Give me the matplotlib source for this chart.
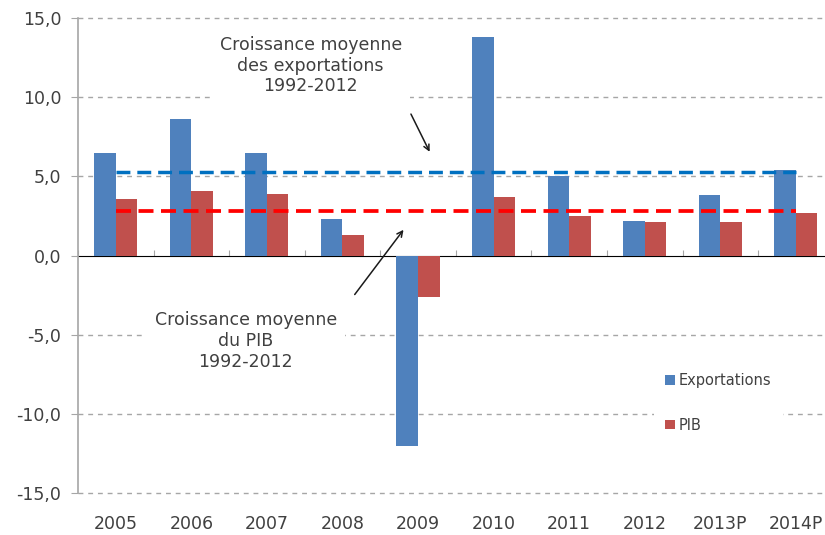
import matplotlib
matplotlib.use("Agg")
import matplotlib.pyplot as plt
import numpy as np

annees = ["2005", "2006", "2007", "2008", "2009", "2010", "2011", "2012", "2013P", "2014P"]
exportations = [6.5, 8.6, 6.5, 2.3, -12.0, 13.8, 5.0, 2.2, 3.8, 5.4]
pib = [3.6, 4.1, 3.9, 1.3, -2.6, 3.7, 2.5, 2.1, 2.1, 2.7]
moy_export = 5.3
moy_pib = 2.8
y_ticks = [-15, -10, -5, 0, 5, 10, 15]

bleu = "#4F81BD"
rouge = "#C0504D"
gris_txt = "#404040"
gris_axe = "#A6A6A6"

plt.rcParams["font.family"] = ["DejaVu Sans"]

fig = plt.figure(figsize=(8.25, 5.35), dpi=100)
ax = fig.add_axes([0.0945, 0.0785, 0.916, 0.8875])

x = np.arange(len(annees))
w = 0.285
ax.bar(x - w / 2, exportations, w, color=bleu, label="Exportations", zorder=2)
ax.bar(x + w / 2, pib, w, color=rouge, label="PIB", zorder=2)

# moyennes 1992-2012
ax.plot([x[0], x[-1]], [moy_export, moy_export], color="#0070C0", lw=2.5,
        dashes=(4, 2), zorder=3)
ax.plot([x[0], x[-1]], [moy_pib, moy_pib], color="#FF0000", lw=2.7,
        dashes=(4, 2), zorder=3)

ax.set_xlim(-0.5, len(annees) - 0.5)
ax.set_ylim(-15, 15)
ax.set_yticks(y_ticks)
ax.set_yticklabels([("%.1f" % v).replace(".", ",") for v in y_ticks])
for v in y_ticks:
    if v != 0:
        ax.axhline(v, color=gris_axe, lw=1, dashes=(3.5, 3.5), zorder=0, clip_on=False)

ax.set_xticks(x)
ax.set_xticklabels(annees)
ax.tick_params(axis="x", length=0, pad=16, labelsize=12.5, labelcolor=gris_txt)
ax.tick_params(axis="y", length=5, color=gris_axe, labelsize=12.5, labelcolor=gris_txt, pad=7)
for s in ["top", "right", "bottom"]:
    ax.spines[s].set_visible(False)
ax.spines["left"].set_color(gris_axe)
ax.spines["left"].set_linewidth(1.2)

# axe horizontal a zero
sec = ax.secondary_xaxis(0.5)
sec.set_xticks(np.arange(len(annees) + 1) - 0.5)
sec.set_xticklabels([])
sec.tick_params(length=4, color=gris_axe, direction="out")
sec.spines["bottom"].set_color(gris_axe)
sec.spines["bottom"].set_linewidth(1.5)

boite = dict(facecolor="white", edgecolor="none", pad=6)
ax.text(2.58, 12.0, "Croissance moyenne\ndes exportations\n1992-2012", ha="center",
        va="center", fontsize=12.5, color=gris_txt, linespacing=1.2, bbox=boite, zorder=4)
ax.text(1.72, -5.4, "Croissance moyenne\ndu PIB\n1992-2012", ha="center",
        va="center", fontsize=12.5, color=gris_txt, linespacing=1.2, bbox=boite, zorder=4)

ax.annotate("", xy=(4.17, 6.4), xytext=(3.89, 9.1),
            arrowprops=dict(arrowstyle="->", color="#1a1a1a", lw=1.1))
ax.annotate("", xy=(3.83, 1.77), xytext=(3.14, -2.6),
            arrowprops=dict(arrowstyle="->", color="#1a1a1a", lw=1.1))

leg = ax.legend(loc="center left", bbox_to_anchor=(0.752, 0.19), frameon=True,
                fontsize=10.5, handlelength=0.65, handleheight=0.65, handletextpad=0.3,
                labelspacing=2.05, borderpad=0.8, labelcolor=gris_txt)
leg.get_frame().set_facecolor("white")
leg.get_frame().set_edgecolor("none")
leg.get_frame().set_alpha(1)
leg.set_zorder(4)

fig.savefig("out.png", dpi=100)
